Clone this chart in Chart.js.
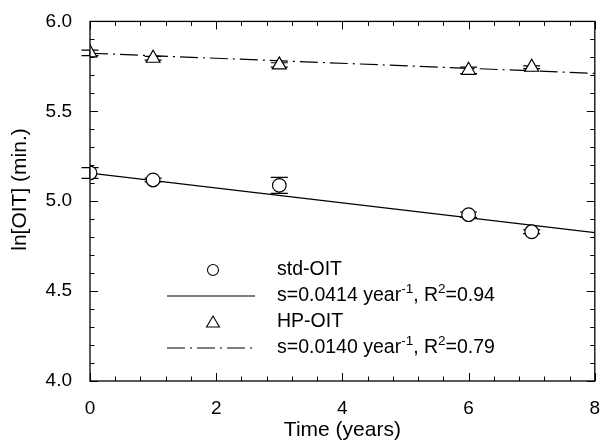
<!DOCTYPE html>
<html>
<head>
<meta charset="utf-8">
<script src="https://cdn.jsdelivr.net/npm/chart.js@4/dist/chart.umd.min.js"></script>
<style>
  html, body { margin: 0; padding: 0; background: #fff; }
</style>
</head>
<body>
<canvas id="myChart" width="604" height="444"></canvas>
<script>
// values
const years = [0, 1, 3, 6, 7];
const stdOIT = [5.157, 5.118, 5.088, 4.925, 4.830];
const stdErr = [0.030, 0.010, 0.045, 0.015, 0.010];
const hpOIT = [5.825, 5.795, 5.758, 5.728, 5.745];
const hpErr = [0.015, 0.010, 0.012, 0.018, 0.008];
// fit lines, ends
const fitX = [0, 8];
const stdFit = [5.156, 4.825];
const hpFit = [5.823, 5.711];
const legendText = [
    ["std-OIT"],
    ["s=0.0414 year", "-1", ", R", "2", "=0.94"],
    ["HP-OIT"],
    ["s=0.0140 year", "-1", ", R", "2", "=0.79"]
];

const FONT = "'Liberation Sans', Arial, sans-serif";

function pts(xs, ys) {
    return xs.map((x, i) => ({x: x, y: ys[i]}));
}

// error bars, inward ticks, frame and the legend box
const framePlugin = {
    id: "frame",
    beforeDatasetsDraw(chart) {
        const ctx = chart.ctx;
        const xs = chart.scales.x, ys = chart.scales.y;
        ctx.save();
        ctx.strokeStyle = "#000";
        ctx.lineWidth = 1.2;
        [[stdOIT, stdErr], [hpOIT, hpErr]].forEach(([vals, errs]) => {
            years.forEach((yr, i) => {
                const px = xs.getPixelForValue(yr);
                const top = ys.getPixelForValue(vals[i] + errs[i]);
                const bot = ys.getPixelForValue(vals[i] - errs[i]);
                ctx.beginPath();
                ctx.moveTo(px, top); ctx.lineTo(px, bot);
                ctx.moveTo(px - 8.5, top); ctx.lineTo(px + 8.5, top);
                ctx.moveTo(px - 8.5, bot); ctx.lineTo(px + 8.5, bot);
                ctx.stroke();
            });
        });
        ctx.restore();
    },
    afterDraw(chart) {
        const ctx = chart.ctx;
        const a = chart.chartArea;
        const xs = chart.scales.x, ys = chart.scales.y;
        ctx.save();
        ctx.strokeStyle = "#000";
        ctx.lineWidth = 1.3;
        ctx.strokeRect(a.left, a.top, a.right - a.left, a.bottom - a.top);
        ctx.lineWidth = 1;
        ctx.beginPath();
        for (let k = 0; k <= 20; k++) {
            const v = k * 0.4;
            const len = (k % 5 === 0) ? 8 : 4.5;
            const px = Math.round(xs.getPixelForValue(v)) + 0.5;
            ctx.moveTo(px, a.bottom); ctx.lineTo(px, a.bottom - len);
            ctx.moveTo(px, a.top); ctx.lineTo(px, a.top + len);
        }
        for (let k = 0; k <= 20; k++) {
            const v = 4 + k * 0.1;
            const len = (k % 5 === 0) ? 8 : 4.5;
            const py = Math.round(ys.getPixelForValue(v)) + 0.5;
            ctx.moveTo(a.left, py); ctx.lineTo(a.left + len, py);
            ctx.moveTo(a.right, py); ctx.lineTo(a.right - len, py);
        }
        ctx.stroke();

        // legend
        const lx = 213, tx = 277;
        const rows = [270, 296, 322, 348];
        ctx.fillStyle = "#fff";
        ctx.lineWidth = 1.1;
        ctx.beginPath();
        ctx.arc(lx, rows[0], 5.5, 0, Math.PI * 2);
        ctx.fill(); ctx.stroke();
        ctx.beginPath();
        ctx.moveTo(lx, rows[2] - 6);
        ctx.lineTo(lx + 6.5, rows[2] + 5);
        ctx.lineTo(lx - 6.5, rows[2] + 5);
        ctx.closePath();
        ctx.fill(); ctx.stroke();
        ctx.lineWidth = 1.2;
        ctx.beginPath();
        ctx.moveTo(167, rows[1]); ctx.lineTo(255, rows[1]);
        ctx.stroke();
        ctx.setLineDash([18, 5, 2, 5]);
        ctx.beginPath();
        ctx.moveTo(167, rows[3]); ctx.lineTo(255, rows[3]);
        ctx.stroke();
        ctx.setLineDash([]);

        ctx.fillStyle = "#000";
        ctx.textBaseline = "middle";
        legendText.forEach((parts, r) => {
            let x = tx;
            parts.forEach((p, j) => {
                const sup = j % 2 === 1;
                ctx.font = (sup ? "13.5px " : "19.5px ") + FONT;
                ctx.fillText(p, x, rows[r] + (sup ? -6.5 : 0));
                x += ctx.measureText(p).width;
            });
        });
        ctx.restore();
    }
};

new Chart("myChart", {
    type: "scatter",
    data: {
        datasets: [{
            label: "std-OIT",
            data: pts(years, stdOIT),
            pointStyle: "circle",
            pointRadius: 6.8,
            pointBorderWidth: 1.2,
            borderColor: "#000",
            backgroundColor: "#fff"
        }, {
            label: "HP-OIT",
            data: pts(years, hpOIT),
            pointStyle: "triangle",
            pointRadius: 8,
            pointBorderWidth: 1.2,
            borderColor: "#000",
            backgroundColor: "#fff"
        }, {
            label: "std fit",
            data: pts(fitX, stdFit),
            showLine: true,
            pointRadius: 0,
            borderWidth: 1.2,
            borderColor: "#000"
        }, {
            label: "HP fit",
            data: pts(fitX, hpFit),
            showLine: true,
            pointRadius: 0,
            borderWidth: 1.2,
            borderDash: [18, 5, 2, 5],
            borderColor: "#000"
        }]
    },
    options: {
        responsive: false,
        animation: false,
        devicePixelRatio: 1,
        layout: { padding: { top: 19, right: 2, left: 0, bottom: 0 } },
        plugins: {
            legend: { display: false },
            tooltip: { enabled: false }
        },
        scales: {
            x: {
                type: "linear",
                min: 0, max: 8,
                grid: { display: false },
                border: { display: false },
                ticks: {
                    stepSize: 2,
                    color: "#000",
                    padding: 8,
                    maxRotation: 0,
                    font: { family: FONT, size: 19 }
                },
                title: {
                    display: true,
                    text: "Time (years)",
                    color: "#000",
                    padding: { top: 0, bottom: 1 },
                    font: { family: FONT, size: 21 }
                },
                afterFit(scale) {
                    scale.height = 63;
                    scale.paddingLeft = 0;
                    scale.paddingRight = 0;
                }
            },
            y: {
                min: 4, max: 6,
                grid: { display: false },
                border: { display: false },
                ticks: {
                    stepSize: 0.5,
                    color: "#000",
                    padding: 10,
                    font: { family: FONT, size: 19 },
                    callback: v => v.toFixed(1)
                },
                title: {
                    display: true,
                    // leading spaces lift the label a little, as in the reference
                    text: "\u00a0\u00a0\u00a0\u00a0ln[OIT] (min.)",
                    color: "#000",
                    padding: { top: 8, bottom: 0 },
                    font: { family: FONT, size: 21 }
                },
                afterFit(scale) {
                    scale.width = 90;
                }
            }
        }
    },
    plugins: [framePlugin]
});
</script>
</body>
</html>
